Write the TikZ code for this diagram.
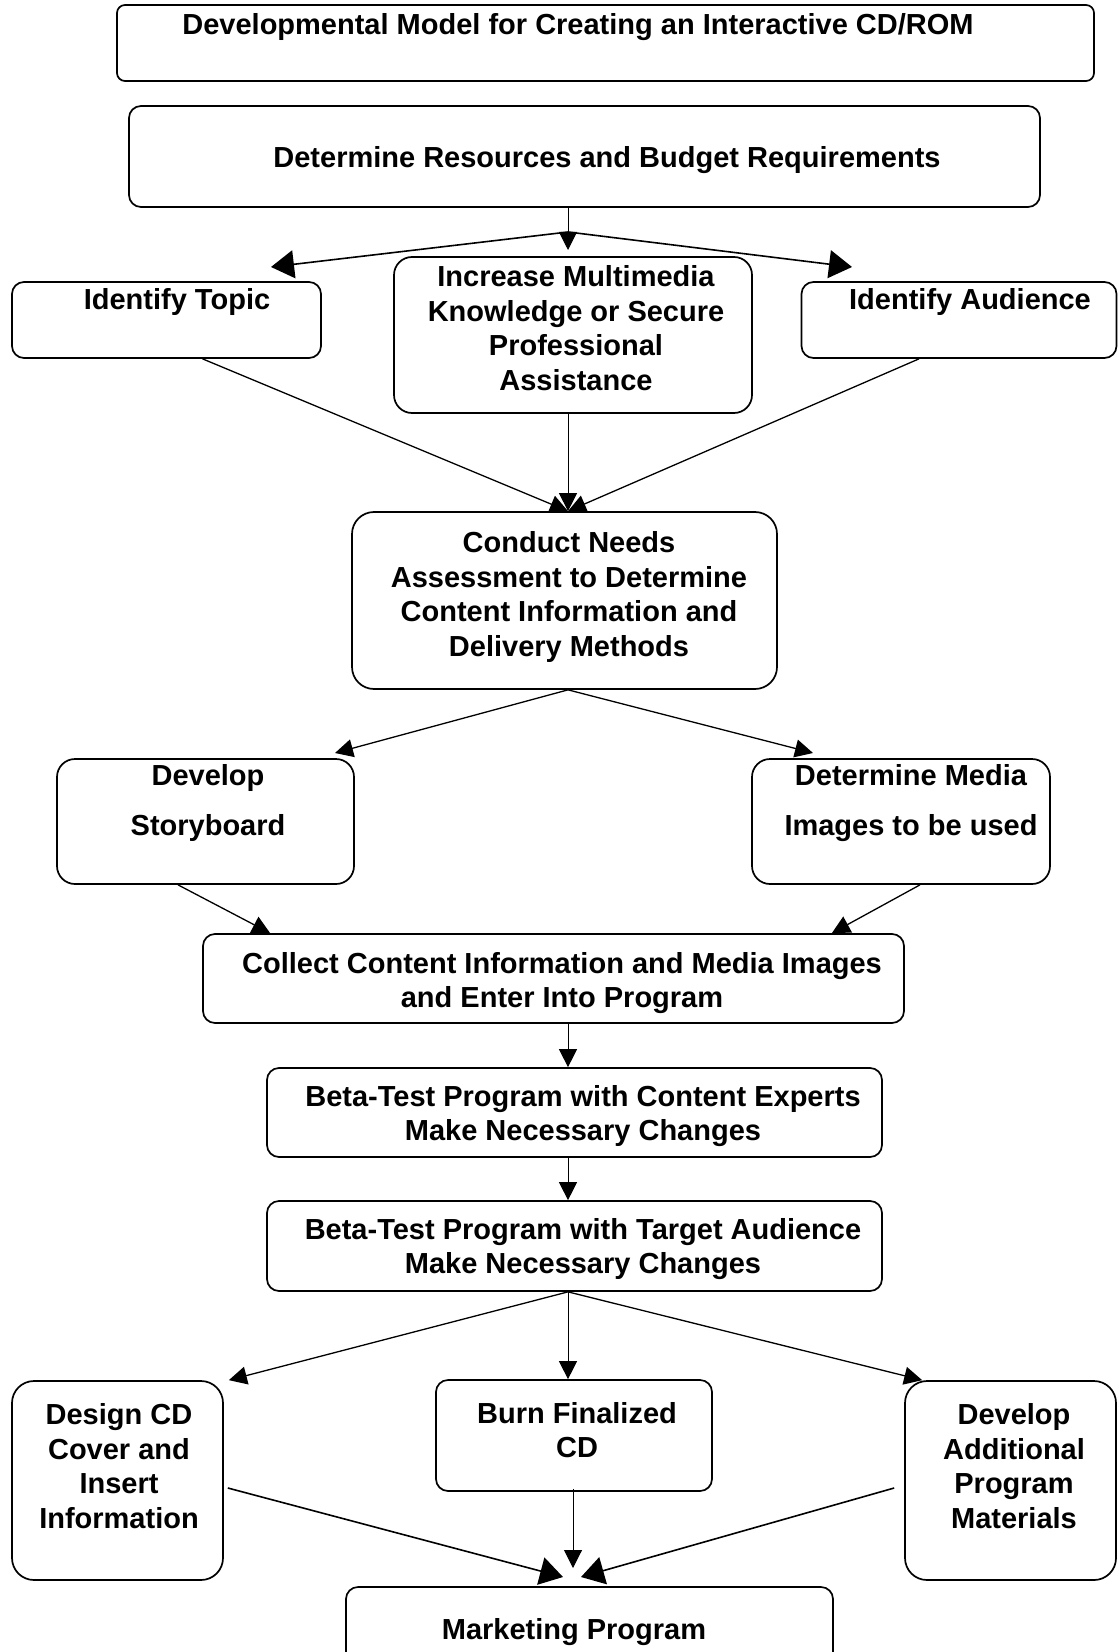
\documentclass[tikz,border=0pt]{standalone}
\usepackage{fontspec}
\setmainfont{Liberation Sans}
\usetikzlibrary{arrows.meta,positioning}

\tikzset{
  box/.style={draw, line width=0.85pt, rounded corners=6pt, inner sep=0pt},
  txt/.style={font=\bfseries\fontsize{14.5}{17.3}\selectfont, align=center, inner sep=0pt},
  arr/.style={-{Triangle[length=9pt,width=9pt]}, line width=0.65pt},
  varr/.style={-{Triangle[length=9pt,width=9pt]}, line width=0.5pt},
  bigarr/.style={-{Triangle[length=11.5pt,width=14pt]}, line width=0.8pt},
}

\begin{document}
\begin{tikzpicture}[x=0.5pt,y=-0.5pt]
  \useasboundingbox (0,0) rectangle (1118,1652);
  % boxes
  \node[box, rounded corners=4pt, minimum width=488.5pt, minimum height=38pt] (title) at (605.5,43) {};
  \node[box, minimum width=455.5pt, minimum height=50.5pt] (res) at (584.5,156.5) {};
  \node[box, minimum width=154.5pt, minimum height=38pt] (topic) at (166.5,320) {};
  \node[box, rounded corners=9pt, minimum width=179pt, minimum height=78pt] (know) at (573,335) {};
  \node[box, minimum width=157.5pt, minimum height=38pt] (aud) at (959,320) {};
  \node[box, rounded corners=11pt, minimum width=212.5pt, minimum height=88.5pt] (needs) at (564.5,600.5) {};
  \node[box, rounded corners=9pt, minimum width=148.5pt, minimum height=62.5pt] (story) at (205.5,821.5) {};
  \node[box, rounded corners=9pt, minimum width=149pt, minimum height=62.5pt] (media) at (901,821.5) {};
  \node[box, minimum width=350.5pt, minimum height=44.5pt] (collect) at (553.5,978.5) {};
  \node[box, minimum width=307.5pt, minimum height=44.5pt] (beta1) at (574.5,1112.5) {};
  \node[box, minimum width=307.5pt, minimum height=45pt] (beta2) at (574.5,1246) {};
  \node[box, rounded corners=11pt, minimum width=105.5pt, minimum height=99.5pt] (cover) at (117.5,1480.5) {};
  \node[box, minimum width=138pt, minimum height=55.5pt] (burn) at (574,1435.5) {};
  \node[box, rounded corners=11pt, minimum width=105.5pt, minimum height=99.5pt] (more) at (1010.5,1480.5) {};
  \node[box, minimum width=243.5pt, minimum height=41.5pt] (market) at (589.5,1628.5) {};

  % texts
  \node[txt] (title-t) at (578,27) {Developmental Model for Creating an Interactive CD/ROM};
  \node[txt] (res-t) at (607,160) {Determine Resources and Budget Requirements};
  \node[txt] (topic-t) at (177,302) {Identify Topic};
  \node[txt] (know-t) at (576,328) {Increase Multimedia\\Knowledge or Secure\\Professional\\Assistance};
  \node[txt] (aud-t) at (970,302) {Identify Audience};
  \node[txt] (needs-t) at (569,597) {Conduct Needs\\Assessment to Determine\\Content Information and\\Delivery Methods};
  \node[txt] (story-t) at (208,803) {Develop\\[7.7pt]Storyboard};
  \node[txt] (media-t) at (911,803) {Determine Media\\[7.7pt]Images to be used};
  \node[txt] (collect-t) at (562,983) {Collect Content Information and Media Images\\and Enter Into Program};
  \node[txt] (beta1-t) at (583,1116) {Beta-Test Program with Content Experts\\Make Necessary Changes};
  \node[txt] (beta2-t) at (583,1249) {Beta-Test Program with Target Audience\\Make Necessary Changes};
  \node[txt] (cover-t) at (119,1466) {Design CD\\Cover and\\Insert\\Information};
  \node[txt] (burn-t) at (577,1430) {Burn Finalized\\CD};
  \node[txt] (more-t) at (1014,1466) {Develop\\Additional\\Program\\Materials};
  \node[txt] (market-t) at (574,1632) {Marketing Program};

  % free ends
  \coordinate (split) at (568,232);
  \coordinate (ttopic) at (271,267);
  \coordinate (taud) at (852,267);
  \coordinate (tknow) at (568,250);
  \coordinate (tstory) at (335,753);
  \coordinate (tmedia) at (813,753);
  \coordinate (tmk1) at (563,1577);
  \coordinate (tmk2) at (573,1568);
  \coordinate (tmk3) at (581,1577);

  % connectors
  \draw[varr] ([xshift=-8.25pt]res.south) -- (tknow);
  \draw[bigarr] (split) -- (ttopic);
  \draw[bigarr] (split) -- (taud);
  \draw[arr] ([xshift=18pt]topic.south) -- ([xshift=1.75pt]needs.north);
  \draw[varr] ([xshift=-2.5pt]know.south) -- ([xshift=1.75pt]needs.north);
  \draw[arr] ([xshift=-20pt]aud.south) -- ([xshift=1.75pt]needs.north);
  \draw[arr] ([xshift=1.75pt]needs.south) -- (tstory);
  \draw[arr] ([xshift=1.75pt]needs.south) -- (tmedia);
  \draw[arr] ([xshift=-13.75pt]story.south) -- ([xshift=34pt]collect.north west);
  \draw[arr] ([xshift=9.5pt]media.south) -- ([xshift=-36.5pt]collect.north east);
  \draw[varr] ([xshift=7.25pt]collect.south) -- ([xshift=-3.25pt]beta1.north);
  \draw[varr] ([xshift=-3.25pt]beta1.south) -- ([xshift=-3.25pt]beta2.north);
  \draw[arr] ([xshift=-3.25pt]beta2.south) -- ([xshift=2.5pt]cover.north east);
  \draw[varr] ([xshift=-3.25pt]beta2.south) -- ([xshift=-3pt]burn.north);
  \draw[arr] ([xshift=-3.25pt]beta2.south) -- ([xshift=9pt]more.north west);
  \draw[bigarr] ([xshift=2pt,yshift=-3.75pt]cover.east) -- (tmk1);
  \draw[varr] ([xshift=-0.5pt,yshift=1.5pt]burn.south) -- (tmk2);
  \draw[bigarr] ([xshift=-5pt,yshift=-3.75pt]more.west) -- (tmk3);
\end{tikzpicture}
\end{document}
